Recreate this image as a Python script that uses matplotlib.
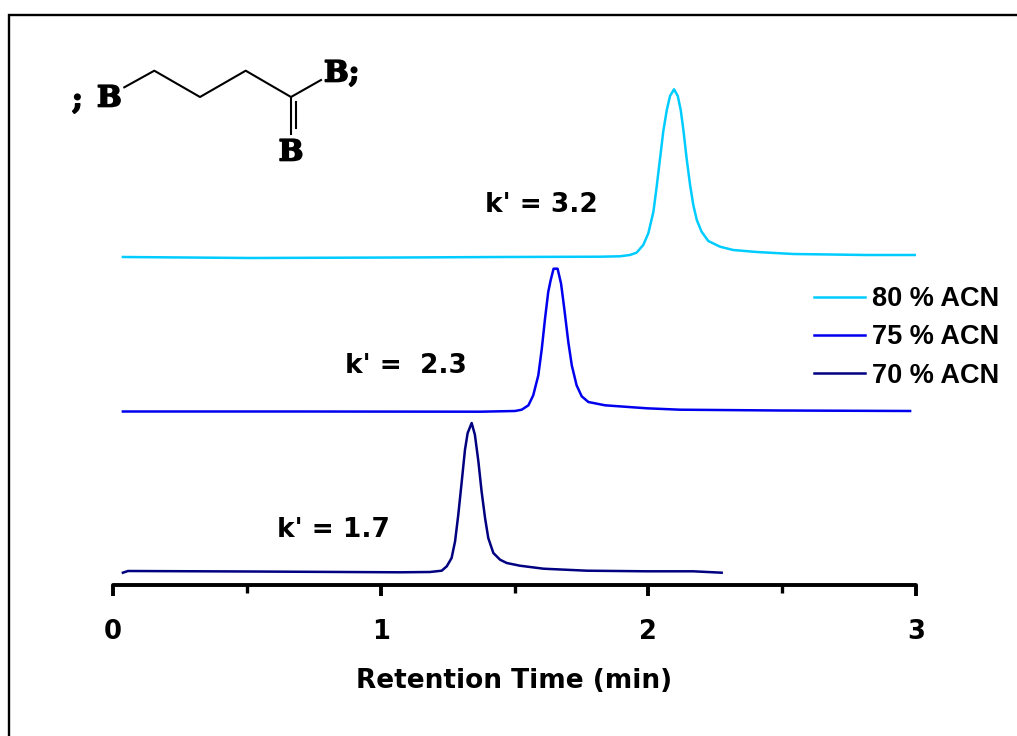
import matplotlib
matplotlib.use('Agg')
import matplotlib.pyplot as plt
import matplotlib.patheffects as pe

# retention time (min) and signal height for each run
time_80 = [0.037, 0.512, 1.072, 1.446, 1.819, 1.894, 1.931, 1.956, 1.981, 2.000, 2.019, 2.031, 2.044, 2.056,
           2.069, 2.081, 2.096, 2.110, 2.121, 2.131, 2.143, 2.156, 2.168, 2.181, 2.199, 2.224, 2.268,
           2.317, 2.405, 2.542, 2.816, 2.996]
signal_80 = [328, 327, 327.5, 328, 328.3, 328.7, 330, 332.3, 340, 351.7, 373.3, 398, 427, 454,
             475, 489, 495.7, 489, 475, 455, 426.7, 400, 380, 365, 353.3, 344, 338.3,
             335, 333, 331, 330, 330]

time_75 = [0.037, 0.699, 1.371, 1.502, 1.527, 1.552, 1.570, 1.589, 1.602, 1.614, 1.626, 1.635, 1.646,
           1.661, 1.674, 1.686, 1.701, 1.714, 1.732, 1.751, 1.776, 1.838, 1.994, 2.118, 2.492, 2.978]
signal_75 = [173.5, 173.5, 173.3, 174, 175.3, 179.7, 189.7, 209.7, 236.3, 266.3, 293, 304.7, 316.3,
             316.3, 301.3, 276.3, 243, 219.7, 199.7, 188.7, 183, 179.7, 176.7, 175.3, 174.5, 174]

time_70 = [0.037, 0.056, 0.512, 1.072, 1.184, 1.228, 1.247, 1.265, 1.278, 1.290, 1.303, 1.315, 1.325,
           1.340, 1.352, 1.365, 1.377, 1.390, 1.402, 1.421, 1.446, 1.471, 1.520, 1.608, 1.770, 1.994,
           2.168, 2.274]
signal_70 = [12.3, 14, 13.5, 12.7, 13, 14.3, 18.7, 27, 43.7, 70.3, 103.7, 135.3, 152,
             162, 150.3, 123.7, 93.7, 67, 47, 32, 25.3, 22, 19.3, 16.3, 14.3, 13.7,
             13.7, 12.3]

major_ticks = [0, 1, 2, 3]
minor_ticks = [0.5, 1.5, 2.5]

W, H = 1017, 736
fig = plt.figure(figsize=(W / 100, H / 100), dpi=100)

# overlay in pixel coordinates for the frame, the structure and the notes
over = fig.add_axes([0, 0, 1, 1])
over.set_xlim(0, W)
over.set_ylim(H, 0)
over.axis('off')

ax = fig.add_axes([113 / W, (H - 585) / H, 803 / W, 570 / H])
ax.patch.set_alpha(0)
ax.set_xlim(0, 3)
ax.set_ylim(0, 570)

line80, = ax.plot(time_80, signal_80, color='#00ccff', lw=1.8, label='80 % ACN')
line75, = ax.plot(time_75, signal_75, color='#0000ee', lw=1.8, label='75 % ACN')
line70, = ax.plot(time_70, signal_70, color='#000080', lw=1.8, label='70 % ACN')

for name in ['top', 'left', 'right']:
    ax.spines[name].set_visible(False)
ax.spines['bottom'].set_linewidth(2.8)
ax.spines['bottom'].set_capstyle('round')
ax.set_yticks([])
ax.set_xticks(major_ticks)
ax.set_xticks(minor_ticks, minor=True)
ax.tick_params(axis='x', which='major', length=8, width=2.8, pad=16.5, labelsize=18.5)
ax.tick_params(axis='x', which='minor', length=5.5, width=2.4)
for lab in ax.get_xticklabels():
    lab.set_fontweight('bold')
ax.set_xlabel('Retention Time (min)', fontsize=19, fontweight='bold', labelpad=16.5)

ax.legend(handles=[line80, line75, line70], loc='upper left', bbox_to_anchor=(814, 286),
          bbox_transform=over.transData, frameon=False, handlelength=1.88, handletextpad=0.25,
          labelspacing=0.46, borderpad=0, borderaxespad=0,
          prop={'family': 'Liberation Sans', 'weight': 'bold', 'size': 19.5})

# outer frame, open on the right and at the bottom
over.plot([9, 9, W], [H, 15, 15], color='black', lw=1.7, solid_joinstyle='miter')

# structure
chain_x = [124.3, 154.3, 200, 245.7, 291, 321]
chain_y = [87.3, 70.7, 97, 70.7, 97, 80]
over.plot(chain_x, chain_y, color='black', lw=1.5)
over.plot([291, 291], [97, 134], color='black', lw=1.5)
over.plot([296.3, 296.3], [102, 128], color='black', lw=1.5)

serif = dict(family='DejaVu Serif', fontweight='bold', fontsize=21, color='black', va='center',
             path_effects=[pe.withStroke(linewidth=1.2, foreground='black')])
over.text(72, 100, ';', ha='left', **serif)
over.text(97, 98, 'B', ha='left', **serif)
over.text(324, 73, 'B;', ha='left', **serif)
over.text(291, 152, 'B', ha='center', **serif)

note = dict(fontweight='bold', fontsize=19, color='black', va='center', ha='left')
over.text(485, 205, "k' = 3.2", **note)
over.text(345, 366, "k' =  2.3", **note)
over.text(277, 530, "k' = 1.7", **note)

fig.savefig('out.png', dpi=100)
